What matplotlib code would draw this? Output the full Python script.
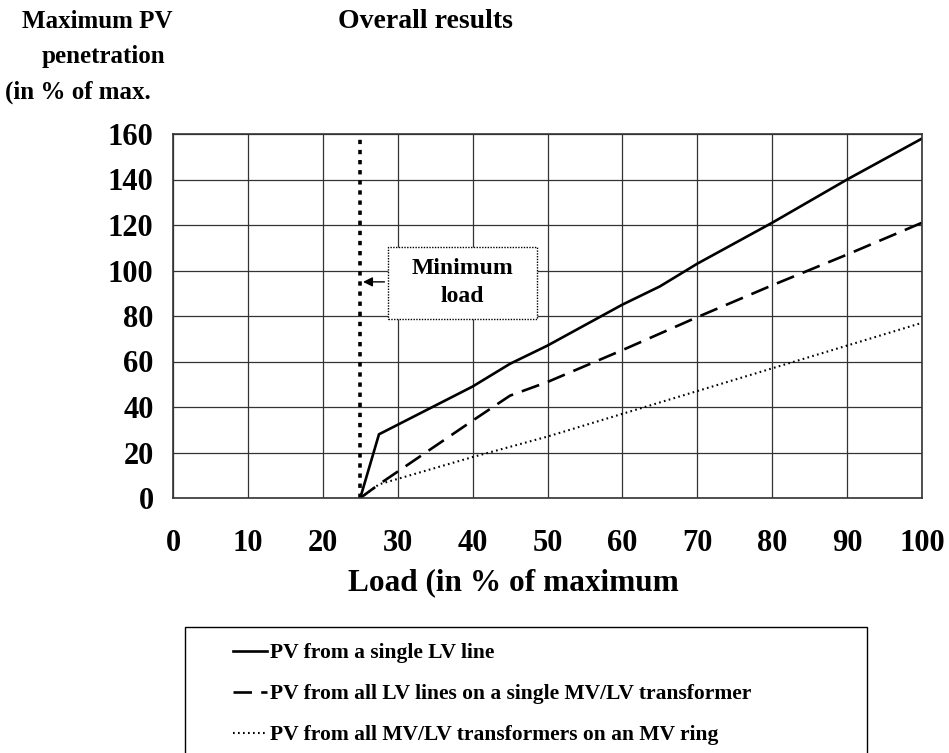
import numpy as np
import matplotlib.pyplot as plt
from matplotlib.patches import Rectangle

# --- Data ---
load_single_lv = [25, 27.5, 40, 45, 50, 60, 65, 70, 80, 90, 100]
pv_single_lv = [0, 28, 49, 59, 67, 85, 93, 103, 121, 140, 158]

load_transformer = [25, 27.5, 40, 45, 50, 60, 70, 80, 90, 100]
pv_transformer = [0, 6, 34, 45, 51, 65, 79.5, 93.5, 107, 121]

load_ring = [25, 27.5, 40, 50, 60, 70, 80, 90, 100]
pv_ring = [0, 6, 18, 27, 37, 47, 57, 67, 77]

min_load = 25
labels = ['PV from a single LV line',
          'PV from all LV lines on a single MV/LV transformer',
          'PV from all MV/LV transformers on an MV ring']

plt.rcParams['font.family'] = ['Liberation Serif', 'DejaVu Serif']
plt.rcParams['font.weight'] = 'bold'

W, H = 949, 753
fig = plt.figure(figsize=(W / 100, H / 100), dpi=100)
ax = fig.add_axes([173 / W, 1 - 498 / H, (922 - 173) / W, (498 - 134) / H])

l1, = ax.plot(load_single_lv, pv_single_lv, color='black', lw=1.9, solid_joinstyle='miter')
l2, = ax.plot(load_transformer, pv_transformer, color='black', lw=1.9, dashes=(7, 3.5))
l3, = ax.plot(load_ring, pv_ring, color='black', lw=1.5, dashes=(0.8, 1.6))

ax.axvline(min_load, color='black', lw=2.6, dashes=(1.2, 1.6))

ax.set_xlim(0, 100)
ax.set_ylim(0, 160)
ax.set_xticks(np.arange(0, 101, 10))
ax.set_yticks(np.arange(0, 161, 20))
ax.grid(True, color='#333333', lw=0.9)
ax.set_axisbelow(True)
for s in ax.spines.values():
    s.set_color('#333333')
    s.set_linewidth(1.2)
ax.tick_params(axis='both', length=0, labelsize=22)
ax.tick_params(axis='x', pad=22)
ax.tick_params(axis='y', pad=14)
for t in ax.get_xticklabels() + ax.get_yticklabels():
    t.set_fontweight('bold')

ax.set_xlabel('Load (in % of maximum', fontsize=22.5, fontweight='bold')
ax.xaxis.set_label_coords((513 - 173) / (922 - 173), -(568 - 498) / (498 - 134))

# axis title block top-left
fig.text(97 / W, 1 - 22 / H, 'Maximum PV', fontsize=18, fontweight='bold', ha='center', va='center')
fig.text(103 / W, 1 - 57 / H, 'penetration', fontsize=18, fontweight='bold', ha='center', va='center')
fig.text(5 / W, 1 - 92 / H, '(in % of max.', fontsize=18, fontweight='bold', ha='left', va='center')
fig.text(425 / W, 1 - 22 / H, 'Overall results', fontsize=20, fontweight='bold', ha='center', va='center')

# minimum load annotation box
box_x0, box_x1 = 388, 537
box_y0, box_y1 = 247, 319
fig.patches.append(Rectangle((box_x0 / W, 1 - box_y1 / H), (box_x1 - box_x0) / W, (box_y1 - box_y0) / H,
                             transform=fig.transFigure, facecolor='white', edgecolor='black',
                             lw=1.0, linestyle=(0, (1, 1)), zorder=5))
fig.text((box_x0 + box_x1) / 2 / W, 1 - 268 / H, 'Minimum', fontsize=17, fontweight='bold',
         ha='center', va='center', zorder=6)
fig.text((box_x0 + box_x1) / 2 / W, 1 - 297 / H, 'load', fontsize=17, fontweight='bold',
         ha='center', va='center', zorder=6)
ax.annotate('', xy=(min_load, 95), xytext=(28.6, 95),
            arrowprops=dict(arrowstyle='-|>', color='black', lw=1.0, mutation_scale=14))

# legend with frame running off the bottom edge
fig.patches.append(Rectangle((185 / W, -0.05), (867 - 185) / W, 0.05 + (1 - 627 / H),
                             transform=fig.transFigure, facecolor='white', edgecolor='black', lw=1.0))
leg = fig.legend([l1, l2, l3], labels, loc='upper left', bbox_to_anchor=(233 / W, 1 - 643 / H),
                 frameon=False, fontsize=15.5, handlelength=1.6, handletextpad=0.1,
                 labelspacing=0.98, borderaxespad=0, borderpad=0)
for t in leg.get_texts():
    t.set_fontweight('bold')

fig.savefig('out.png', dpi=100)
